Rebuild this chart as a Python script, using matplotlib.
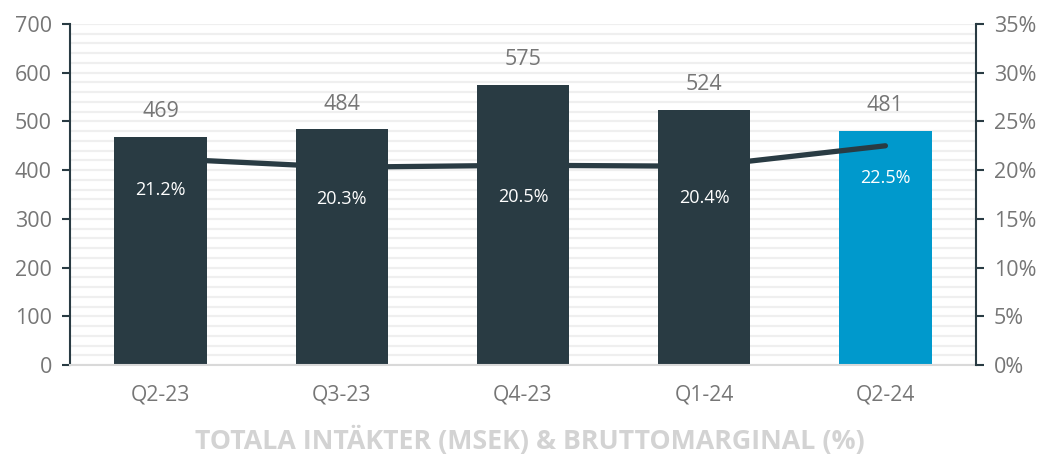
import matplotlib.pyplot as plt
import numpy as np
from matplotlib.ticker import MultipleLocator, FuncFormatter

plt.rcParams['font.family'] = ['Open Sans', 'DejaVu Sans']

quarters = ['Q2-23', 'Q3-23', 'Q4-23', 'Q1-24', 'Q2-24']
revenue = [469, 484, 575, 524, 481]
margin = [21.2, 20.3, 20.5, 20.4, 22.5]
bar_colors = ['#293b43', '#293b43', '#293b43', '#293b43', '#0099cc']

dark = '#293b43'
gray = '#767676'

fig = plt.figure(figsize=(10.42, 4.54), dpi=100)
ax = fig.add_axes([70 / 1042, 1 - 365 / 454, 906 / 1042, 341 / 454])
x = np.arange(len(quarters))

ax.bar(x, revenue, width=0.51, color=bar_colors, zorder=2)
ax.set_xlim(-0.5, len(quarters) - 0.5)
ax.set_ylim(0, 700)
ax.yaxis.set_major_locator(MultipleLocator(100))
ax.yaxis.set_minor_locator(MultipleLocator(20))
ax.grid(axis='y', which='both', color='#efefef', linewidth=1.6, zorder=0)
ax.set_axisbelow(True)

for xi, v in zip(x, revenue):
    ax.annotate(str(v), (xi, v), xytext=(0, 18), textcoords='offset points',
                ha='center', va='center', fontsize=15.5, color=gray)

ax.set_xticks(x)
ax.set_xticklabels(quarters, fontsize=15.2, color=gray)
ax.tick_params(axis='x', length=0, pad=14)
ax.tick_params(axis='y', which='major', length=6, width=1.5, color=dark,
               labelsize=15.5, labelcolor=gray, pad=7)
ax.tick_params(axis='y', which='minor', length=0)

for s in ['top', 'right']:
    ax.spines[s].set_visible(False)
ax.spines['left'].set_color(dark)
ax.spines['left'].set_linewidth(1.5)
ax.spines['bottom'].set_color('#d9d9d9')
ax.spines['bottom'].set_linewidth(1.5)

ax2 = ax.twinx()
ax2.plot(x, margin, color=dark, linewidth=3.8, solid_capstyle='round', zorder=3)
ax2.set_ylim(0, 35)
ax2.yaxis.set_major_locator(MultipleLocator(5))
ax2.yaxis.set_major_formatter(FuncFormatter(lambda v, p: f'{v:.0f}%'))
ax2.tick_params(axis='y', length=6, width=1.5, color=dark,
                labelsize=15.5, labelcolor=gray, pad=7)
for s in ['top', 'left', 'bottom']:
    ax2.spines[s].set_visible(False)
ax2.spines['right'].set_color(dark)
ax2.spines['right'].set_linewidth(1.5)

for xi, m in zip(x, margin):
    ax2.annotate(f'{m:.1f}%', (xi, m), xytext=(0, -23), textcoords='offset points',
                 ha='center', va='center', fontsize=13, color='white')

fig.text(530 / 1042, 1 - 440 / 454, 'TOTALA INTÄKTER (MSEK) & BRUTTOMARGINAL (%)',
         ha='center', va='center', fontsize=19.3, fontweight='bold', color='#d3d3d3')

fig.savefig('out.png', dpi=100)
